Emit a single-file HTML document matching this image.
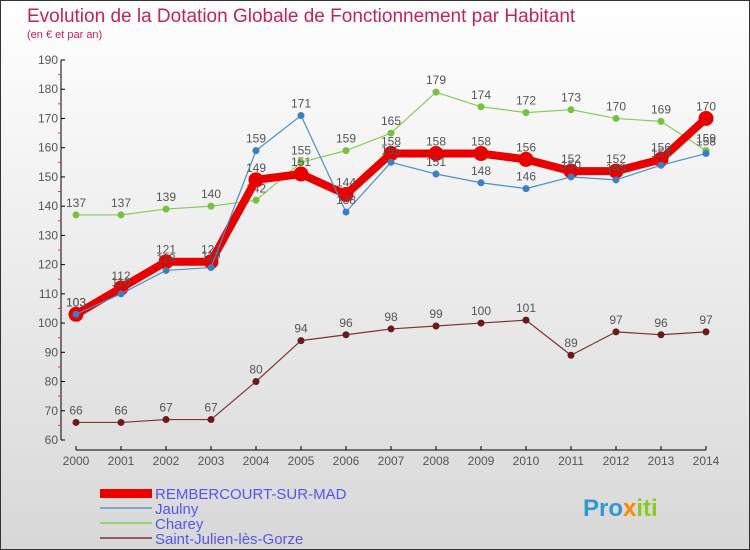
<!DOCTYPE html>
<html><head><meta charset="utf-8"><style>
body{margin:0}
#c{width:750px;height:550px;position:relative;box-sizing:border-box;border:1px solid #333;background:linear-gradient(#fff,#d8d8d8);font-family:"Liberation Sans",sans-serif}
text{font-family:"Liberation Sans",sans-serif}
</style></head><body>
<div id="c">
<svg id="s" width="750" height="550" style="position:absolute;left:-1px;top:-1px">
<text x="27" y="22" font-size="19" fill="#c0245c">Evolution de la Dotation Globale de Fonctionnement par Habitant</text>
<text x="27" y="38" font-size="11" fill="#c0245c">(en € et par an)</text>
<g id="g"></g>
<g>
<rect x="100" y="489" width="52" height="9" fill="#e00"/>
<text x="155" y="499" font-size="15" fill="#5555ee">REMBERCOURT-SUR-MAD</text>
<rect x="100" y="507" width="52" height="2" fill="#7aa8c8"/>
<text x="155" y="514" font-size="15" fill="#5555ee">Jaulny</text>
<rect x="100" y="522" width="52" height="2" fill="#99d070"/>
<text x="155" y="529" font-size="15" fill="#5555ee">Charey</text>
<rect x="100" y="537" width="52" height="2" fill="#906060"/>
<text x="155" y="544" font-size="15" fill="#5555ee">Saint-Julien-lès-Gorze</text>
</g>
<text x="583" y="516" font-size="24" font-weight="bold" fill="#3399cc">Pro<tspan fill="#ff8800">x</tspan><tspan fill="#88cc22">iti</tspan></text>
</svg>
</div>
<script>
const years=[2000,2001,2002,2003,2004,2005,2006,2007,2008,2009,2010,2011,2012,2013,2014];
const rembercourt=[103,112,121,121,149,151,144,158,158,158,156,152,152,156,170];
const jaulny=[103,110,118,119,159,171,138,155,151,148,146,150,149,154,158];
const charey=[137,137,139,140,142,155,159,165,179,174,172,173,170,169,159];
const saintJulien=[66,66,67,67,80,94,96,98,99,100,101,89,97,96,97];
const yTicks=[60,70,80,90,100,110,120,130,140,150,160,170,180,190];
const NS="http://www.w3.org/2000/svg";
const g=document.getElementById('g');
const X=i=>76+i*45;
const Y=v=>60+(190-v)*380/130;
function mk(t,a){const e=document.createElementNS(NS,t);for(const k in a)e.setAttribute(k,a[k]);g.appendChild(e);return e;}
let e=mk('line',{x1:61,y1:60,x2:61,y2:440,stroke:'#000'});


e=mk('line',{x1:76,y1:450,x2:706,y2:450,stroke:'#000'});


yTicks.forEach(v=>{
 mk('line',{x1:61,y1:Y(v),x2:65,y2:Y(v),stroke:'#000'});
 if(v<190)mk('line',{x1:58,y1:Y(v+5),x2:61,y2:Y(v+5),stroke:'#e33'});
 const t=mk('text',{x:58,y:Y(v)+4,'font-size':12,fill:'#555','text-anchor':'end'});t.textContent=v;
 
 
});
years.forEach((y,i)=>{
 mk('line',{x1:X(i),y1:446,x2:X(i),y2:450,stroke:'#000'});
 const t=mk('text',{x:X(i),y:465,'font-size':12,fill:'#555','text-anchor':'middle'});t.textContent=y;
 
 
});
function series(d,col,w,r,name,dot){
 const p=mk('polyline',{points:d.map((v,i)=>X(i)+','+Y(v)).join(' '),fill:'none',stroke:col,'stroke-width':w,'stroke-linejoin':'round'});
 
 
 d.forEach((v,i)=>{
  const c=mk('circle',{cx:X(i),cy:Y(v),r:r,fill:dot||col});
  
  
  const t=mk('text',{x:X(i),y:Y(v)-8,'font-size':12,fill:'#555','text-anchor':'middle'});t.textContent=v;
  
  
 });
}
series(saintJulien,'#7a3535',1.2,3.5,'saint-julien','#6a1a1a');
series(charey,'#88cc55',1.2,3.5,'charey','#77c040');
series(rembercourt,'#e80000',8,7.5,'rembercourt');
series(jaulny,'#4a90c8',1.2,3.5,'jaulny','#3a80c0');
</script>
</body></html>
